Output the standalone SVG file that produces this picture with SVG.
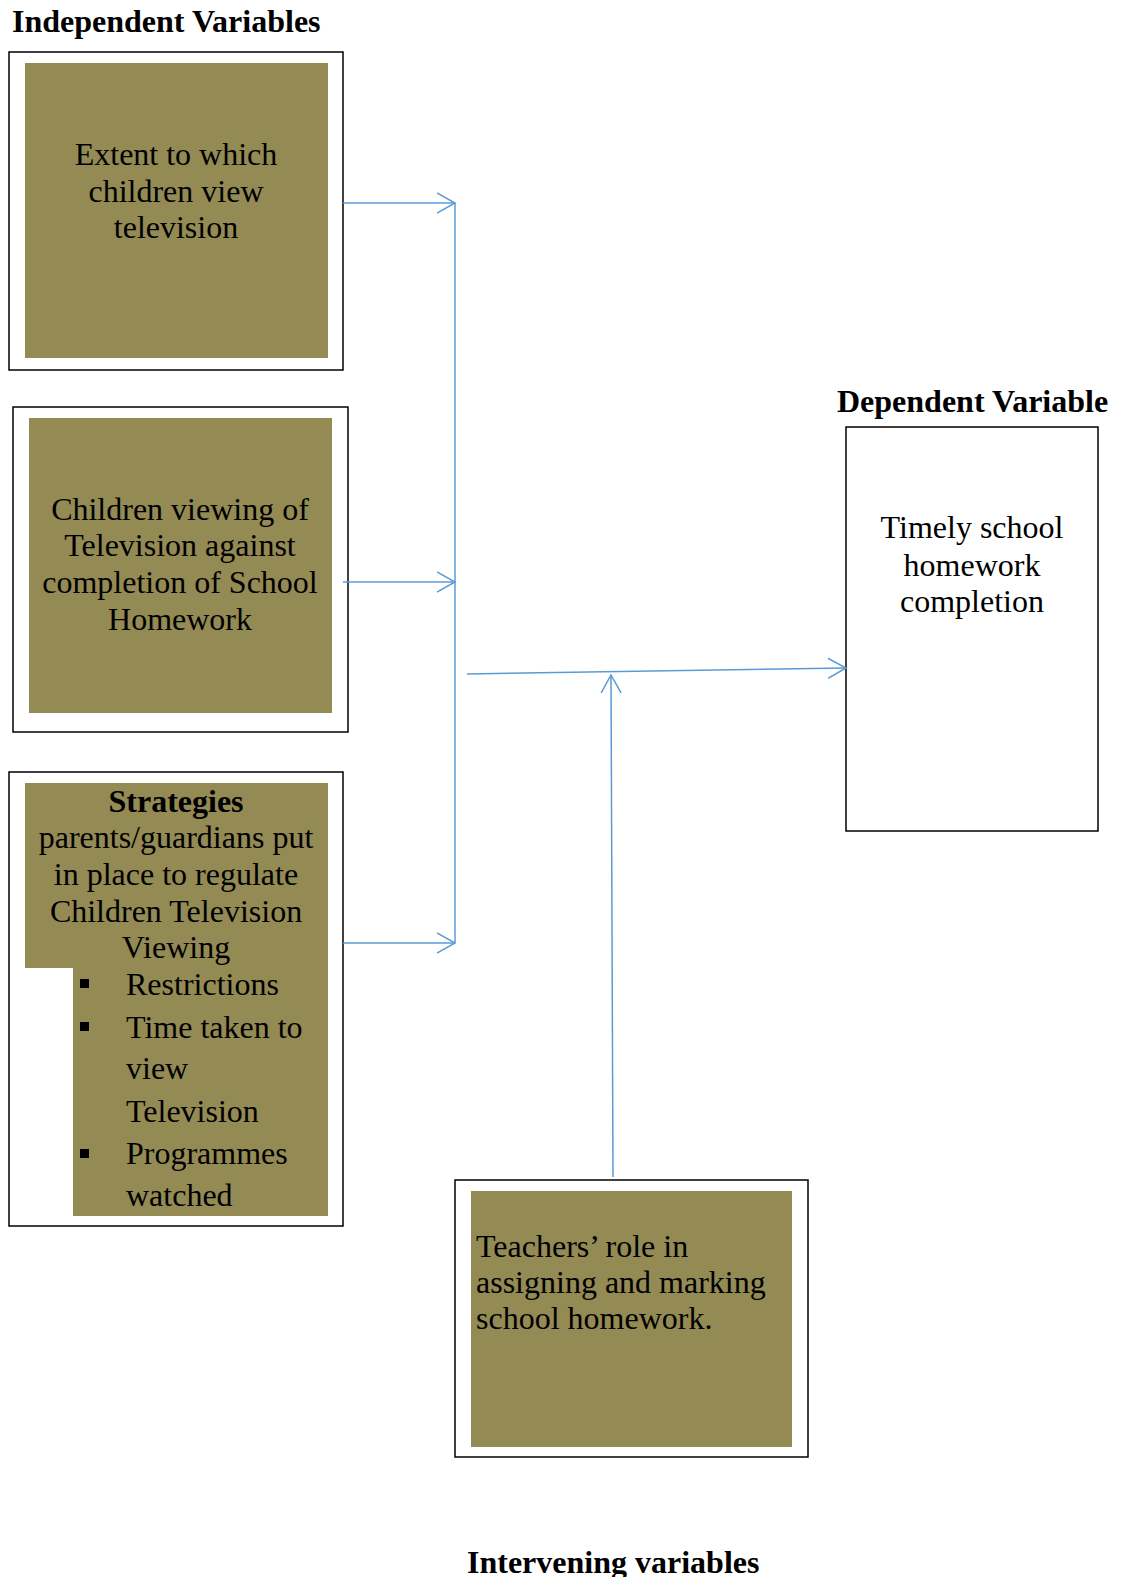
<svg xmlns="http://www.w3.org/2000/svg" width="1122" height="1577" viewBox="0 0 1122 1577">
<defs>
<style>
.frame{fill:#ffffff;stroke:#000000;stroke-width:1.5}
.fill{fill:#948A54;stroke:none}
.t{font-family:"Liberation Serif","Times New Roman",serif;font-size:32px;fill:#000000}
.c{text-anchor:middle}
.b{font-weight:bold}
.conn{fill:none;stroke:#5B9BD5;stroke-width:1.5}
</style>
<marker id="arr" markerUnits="userSpaceOnUse" markerWidth="22" markerHeight="24" refX="18" refY="11" orient="auto" viewBox="0 0 22 24">
<path d="M0,1 L18,11 L0,21" fill="none" stroke="#5B9BD5" stroke-width="1.5"/>
</marker>
</defs>
<rect width="1122" height="1577" fill="#ffffff"/>

<text class="t b" x="12" y="32">Independent Variables</text>
<text class="t b" x="837" y="412">Dependent Variable</text>
<text class="t b" x="467" y="1573">Intervening variables</text>

<g id="node-extent">
<rect class="frame" x="9" y="52" width="334" height="318"/>
<rect class="fill" x="25" y="63" width="303" height="295"/>
<text class="t c" x="176" y="165">Extent to which</text>
<text class="t c" x="176" y="202">children view</text>
<text class="t c" x="176" y="238">television</text>
</g>

<g id="node-viewing">
<rect class="frame" x="13" y="407" width="335" height="325"/>
<rect class="fill" x="29" y="418" width="303" height="295"/>
<text class="t c" x="180" y="520">Children viewing of</text>
<text class="t c" x="180" y="556">Television against</text>
<text class="t c" x="180" y="593">completion of School</text>
<text class="t c" x="180" y="630">Homework</text>
</g>

<g id="node-strategies">
<rect class="frame" x="9" y="772" width="334" height="454"/>
<rect class="fill" x="25" y="783" width="303" height="185"/>
<rect class="fill" x="73" y="967" width="255" height="249"/>
<text class="t c b" x="176" y="812">Strategies</text>
<text class="t c" x="176" y="848">parents/guardians put</text>
<text class="t c" x="176" y="885">in place to regulate</text>
<text class="t c" x="176" y="922">Children Television</text>
<text class="t c" x="176" y="958">Viewing</text>
<rect x="80" y="979" width="9" height="9" fill="#000000"/>
<rect x="80" y="1022" width="9" height="9" fill="#000000"/>
<rect x="80" y="1149" width="9" height="9" fill="#000000"/>
<text class="t" x="126" y="995">Restrictions</text>
<text class="t" x="126" y="1038">Time taken to</text>
<text class="t" x="126" y="1079">view</text>
<text class="t" x="126" y="1122">Television</text>
<text class="t" x="126" y="1164">Programmes</text>
<text class="t" x="126" y="1206">watched</text>
</g>

<g id="node-dependent">
<rect class="frame" x="846" y="427" width="252" height="404"/>
<text class="t c" x="972" y="538">Timely school</text>
<text class="t c" x="972" y="576">homework</text>
<text class="t c" x="972" y="612">completion</text>
</g>

<g id="node-teachers">
<rect class="frame" x="455" y="1180" width="353" height="277"/>
<rect class="fill" x="471" y="1191" width="321" height="256"/>
<text class="t" x="476" y="1257">Teachers’ role in</text>
<text class="t" x="476" y="1293">assigning and marking</text>
<text class="t" x="476" y="1329">school homework.</text>
</g>

<g id="connectors">
<line class="conn" x1="343" y1="203" x2="455" y2="203" marker-end="url(#arr)"/>
<line class="conn" x1="343" y1="582" x2="455" y2="582" marker-end="url(#arr)"/>
<line class="conn" x1="343" y1="943" x2="455" y2="943" marker-end="url(#arr)"/>
<line class="conn" x1="455" y1="203" x2="455" y2="943"/>
<line class="conn" x1="467" y1="674" x2="846" y2="668" marker-end="url(#arr)"/>
<line class="conn" x1="613" y1="1177" x2="611" y2="675" marker-end="url(#arr)"/>
</g>
</svg>
